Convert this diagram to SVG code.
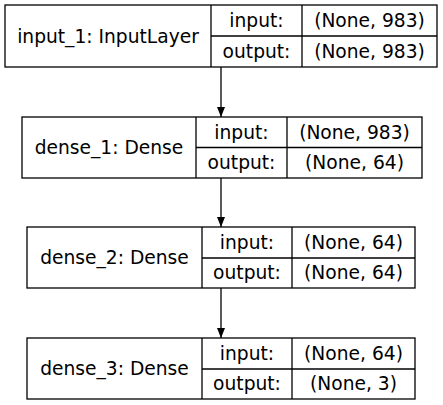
<svg xmlns="http://www.w3.org/2000/svg" width="443" height="405" viewBox="0 0 443 405">
<style>
.b,line.c{fill:none;stroke:#000;stroke-width:1.3}
text{font-family:"DejaVu Sans",sans-serif;font-size:18.67px;text-anchor:middle;fill:#000}
.e{stroke:#000;stroke-width:1.3;fill:none}
</style>
<defs>
<marker id="ah" viewBox="0 0 10 8" refX="10" refY="4" markerWidth="10" markerHeight="8" markerUnits="userSpaceOnUse" orient="auto">
<path d="M0,0 L10,4 L0,8 Z" fill="#000"/>
</marker>
</defs>
<rect x="0" y="0" width="443" height="405" fill="#fff"/>
<g id="input_1">
<rect class="b" x="5" y="5" width="432" height="62"/>
<line class="c" x1="211" y1="5" x2="211" y2="67"/>
<line class="c" x1="302" y1="5" x2="302" y2="67"/>
<line class="c" x1="211" y1="36" x2="437" y2="36"/>
<text x="108" y="42.5">input_1: InputLayer</text>
<text x="256.5" y="27">input:</text>
<text x="369.5" y="27">(None, 983)</text>
<text x="256.5" y="58">output:</text>
<text x="369.5" y="58">(None, 983)</text>
</g>
<g id="dense_1">
<rect class="b" x="22" y="117" width="400" height="61"/>
<line class="c" x1="196" y1="117" x2="196" y2="178"/>
<line class="c" x1="287" y1="117" x2="287" y2="178"/>
<line class="c" x1="196" y1="147.5" x2="422" y2="147.5"/>
<text x="109" y="154">dense_1: Dense</text>
<text x="241.5" y="138.5">input:</text>
<text x="354.5" y="138.5">(None, 983)</text>
<text x="241.5" y="169">output:</text>
<text x="354.5" y="169">(None, 64)</text>
</g>
<g id="dense_2">
<rect class="b" x="27" y="227" width="388" height="61"/>
<line class="c" x1="202" y1="227" x2="202" y2="288"/>
<line class="c" x1="292" y1="227" x2="292" y2="288"/>
<line class="c" x1="202" y1="258" x2="415" y2="258"/>
<text x="114.5" y="264">dense_2: Dense</text>
<text x="247" y="248.5">input:</text>
<text x="353.5" y="248.5">(None, 64)</text>
<text x="247" y="279">output:</text>
<text x="353.5" y="279">(None, 64)</text>
</g>
<g id="dense_3">
<rect class="b" x="27" y="338" width="388" height="61"/>
<line class="c" x1="202" y1="338" x2="202" y2="399"/>
<line class="c" x1="292" y1="338" x2="292" y2="399"/>
<line class="c" x1="202" y1="369" x2="415" y2="369"/>
<text x="114.5" y="375">dense_3: Dense</text>
<text x="247" y="359.5">input:</text>
<text x="353.5" y="359.5">(None, 64)</text>
<text x="247" y="390">output:</text>
<text x="353.5" y="390">(None, 3)</text>
</g>
<g id="connectors">
<line class="e" x1="221" y1="67" x2="221" y2="117" marker-end="url(#ah)"/>
<line class="e" x1="221" y1="178" x2="221" y2="227" marker-end="url(#ah)"/>
<line class="e" x1="221" y1="288" x2="221" y2="338" marker-end="url(#ah)"/>
</g>
</svg>
